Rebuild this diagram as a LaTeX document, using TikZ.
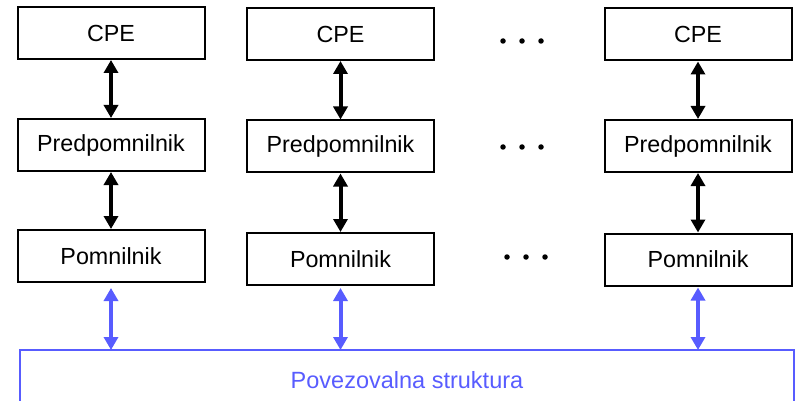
\documentclass[tikz,border=0pt]{standalone}
\usepackage{fontspec}
\setmainfont{Liberation Sans}
\usetikzlibrary{arrows.meta}
\definecolor{busblue}{RGB}{88,92,255}
\begin{document}
\begin{tikzpicture}[x=1pt,y=-1pt,
  unit/.style={draw=black,line width=2pt,minimum width=187pt,minimum height=52pt,
    inner sep=0pt,font=\fontsize{23.3pt}{26pt}\selectfont},
  link/.style={line width=4pt,{Triangle[length=13pt,width=14pt]}-{Triangle[length=13pt,width=14pt]}},
  buslink/.style={link,draw=busblue,fill=busblue},
  dot/.style={circle,fill=black,inner sep=0pt,minimum size=5.5pt}]
\useasboundingbox (0,0) rectangle (798,401);

% column 1
\node[unit] (c1) at (111,33) {CPE};
\node[unit] (k1) at (111,145) {Predpomnilnik};
\node[unit] (m1) at (111,256) {Pomnilnik};
% column 2
\node[unit] (c2) at (340.5,34) {CPE};
\node[unit] (k2) at (340.5,146.5) {Predpomnilnik};
\node[unit] (m2) at (340.5,259) {Pomnilnik};
% column n
\node[unit] (c3) at (698,34.5) {CPE};
\node[unit] (k3) at (698,146) {Predpomnilnik};
\node[unit] (m3) at (698,259.5) {Pomnilnik};

% ellipsis dots between the columns
\foreach \y/\x in {41/503,147/503,257/507}{
  \node[dot] at (\x,\y) {};
  \node[dot] at (\x+19,\y) {};
  \node[dot] at (\x+38,\y) {};
}

% interconnect
\draw[busblue,line width=1.6pt] (20,412) -- (20,350) -- (794,350) -- (794,412);
\node[text=busblue,font=\fontsize{23.5pt}{26pt}\selectfont] (bus) at (407,380) {Povezovalna struktura};
\coordinate (b1) at (m1.south |- 0,350);
\coordinate (b2) at (m2.south |- 0,350);
\coordinate (b3) at (m3.south |- 0,350);

% processor <-> cache <-> memory links
\foreach \i in {1,2,3}{
  \draw[link] (c\i.south) -- (k\i.north);
  \draw[link] (k\i.south) -- (m\i.north);
}
\draw[buslink,shorten <=5pt] (m1.south) -- (b1);
\draw[buslink,shorten <=2pt] (m2.south) -- (b2);
\draw[buslink,shorten <=1pt] (m3.south) -- (b3);
\end{tikzpicture}
\end{document}
